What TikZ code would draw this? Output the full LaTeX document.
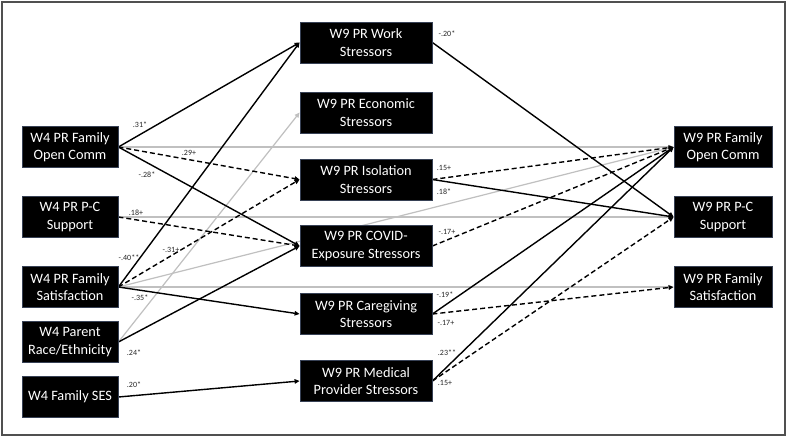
\documentclass[tikz,border=0pt]{standalone}
\usepackage{fontspec}
\setmainfont{Carlito}
\usetikzlibrary{arrows.meta}
\pgfdeclarelayer{edges}
\pgfdeclarelayer{paper}
\pgfsetlayers{paper,edges,main}
\definecolor{boxborder}{RGB}{55,65,85}
\definecolor{nsgray}{RGB}{192,192,192}
\definecolor{framegray}{RGB}{80,80,80}
\begin{document}
\begin{tikzpicture}[x=1pt,y=-1pt,
  box/.style={fill=black, draw=boxborder, line width=0.8pt, text=white, align=center,
    font=\fontsize{14.3}{17.5}\selectfont, inner sep=0pt, minimum height=41pt},
  lbox/.style={box, minimum width=96pt},
  mbox/.style={box, minimum width=132pt},
  rbox/.style={box, minimum width=98pt},
  edgebase/.style={line width=1.4pt, -{Triangle[length=5pt,width=4.5pt]}},
  sig/.style={edgebase, draw=black},
  mar/.style={edgebase, draw=black, dash pattern=on 5pt off 3pt},
  ns/.style={edgebase, draw=nsgray, line width=1.2pt},
  coef/.style={font=\fontsize{8}{9}\selectfont, text=black!85, inner sep=0pt}]
\useasboundingbox (0,0) rectangle (787,437);
\begin{pgfonlayer}{paper}
\fill[white] (0,0) rectangle (787,437);
\draw[framegray, line width=1.5pt] (2,2) rectangle (785,435);
\end{pgfonlayer}

% left column
\node[lbox] (lOC)   at (70,147) {W4 PR Family\\Open Comm};
\node[lbox] (lPC)   at (70,217) {W4 PR P-C\\Support};
\node[lbox] (lSat)  at (70,287) {W4 PR Family\\Satisfaction};
\node[lbox] (lRace) at (70,342) {W4 Parent\\Race/Ethnicity};
\node[lbox] (lSES)  at (70,397) {W4 Family SES};

% middle column
\node[mbox] (mWork)  at (366,42.5) {W9 PR Work\\Stressors};
\node[mbox] (mEcon)  at (366,112.5) {W9 PR Economic\\Stressors};
\node[mbox] (mIso)   at (366,179.5) {W9 PR Isolation\\Stressors};
\node[mbox] (mCOVID) at (366,246) {W9 PR COVID-\\Exposure Stressors};
\node[mbox] (mCare)  at (366,314) {W9 PR Caregiving\\Stressors};
\node[mbox] (mMed)   at (366,381) {W9 PR Medical\\Provider Stressors};

% right column
\node[rbox] (rOC)  at (723,147) {W9 PR Family\\Open Comm};
\node[rbox] (rPC)  at (723,217) {W9 PR P-C\\Support};
\node[rbox] (rSat) at (723,287) {W9 PR Family\\Satisfaction};

\begin{pgfonlayer}{edges}
% non-significant (gray)
\draw[ns] (lOC.east) -- (rOC.west);
\draw[ns] (lPC.east) -- (rPC.west);
\draw[ns] (lSat.east) -- (rSat.west);
\draw[ns] (lSat.east) -- (rOC.west);
\draw[ns] (lRace.east) -- (mEcon.west);
% significant (solid)
\draw[sig] (lOC.east) -- (mWork.west);
\draw[sig] (lOC.east) -- (mCOVID.west);
\draw[sig] (lSat.east) -- (mWork.west);
\draw[sig] (lSat.east) -- (mCare.west);
\draw[sig] (lRace.east) -- (mCOVID.west);
\draw[sig] (lSES.east) -- (mMed.west);
\draw[sig] (mWork.east) -- (rPC.west);
\draw[sig] (mIso.east) -- (rPC.west);
\draw[sig] (mCare.east) -- (rOC.west);
\draw[sig] (mMed.east) -- (rOC.west);
% marginal (dashed)
\draw[mar] (lOC.east) -- (mIso.west);
\draw[mar] (lPC.east) -- (mCOVID.west);
\draw[mar] (lSat.east) -- (mIso.west);
\draw[mar] (mIso.east) -- (rOC.west);
\draw[mar] (mCOVID.east) -- (rOC.west);
\draw[mar] (mCare.east) -- (rSat.west);
\draw[mar] (mMed.east) -- (rPC.west);
\end{pgfonlayer}

% coefficients
\node[coef] (c1)  at (140,125) {.31*};
\node[coef] (c2)  at (189,153) {.29+};
\node[coef] (c3)  at (147,175) {-.28*};
\node[coef] (c4)  at (136,213) {.18+};
\node[coef] (c5)  at (129,258) {-.40**};
\node[coef] (c6)  at (171,250) {-.31+};
\node[coef] (c7)  at (140,298) {-.35*};
\node[coef] (c8)  at (134,353) {.24*};
\node[coef] (c9)  at (134,385) {.20*};
\node[coef] (c10) at (447,34)  {-.20*};
\node[coef] (c11) at (444,168) {.15+};
\node[coef] (c12) at (444,192) {.18*};
\node[coef] (c13) at (447,232) {-.17+};
\node[coef] (c14) at (445,295) {-.19*};
\node[coef] (c15) at (446,323) {-.17+};
\node[coef] (c16) at (447,353) {.23**};
\node[coef] (c17) at (445,383) {.15+};
\end{tikzpicture}
\end{document}
